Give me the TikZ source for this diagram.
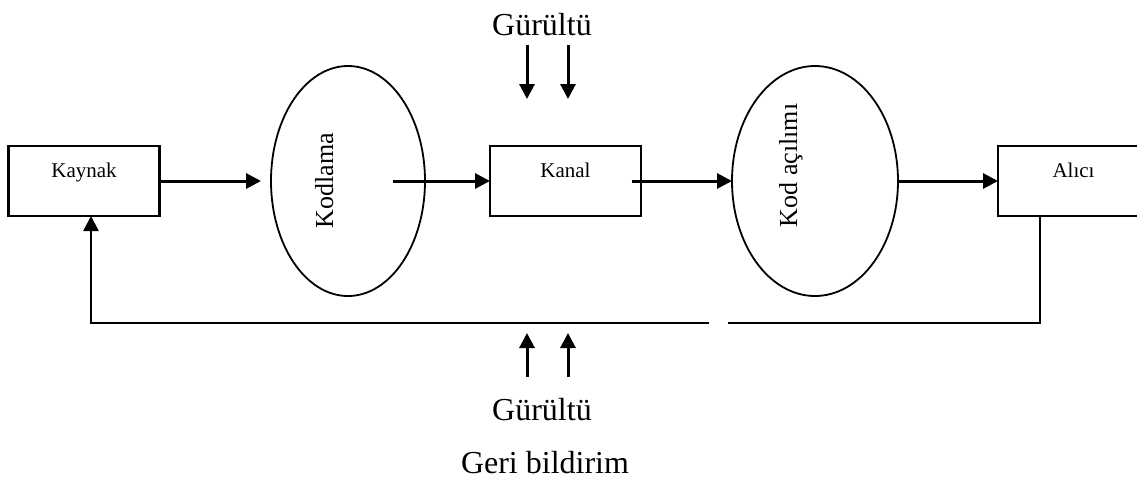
\documentclass[tikz,border=0pt]{standalone}
\usepackage{fontspec}
\setmainfont{Liberation Serif}
\usetikzlibrary{arrows.meta,shapes.geometric,calc}
\tikzset{
  box/.style={draw,line width=1.1pt,rectangle,minimum width=75.5pt,minimum height=35pt,
    text height=8pt,text depth=12pt,outer sep=0pt,font=\fontsize{10.5}{12}\selectfont},
  oval/.style={draw,line width=0.9pt,ellipse,inner sep=0pt,outer sep=0pt,minimum height=115pt},
  ovaltext/.style={font=\fontsize{13}{15}\selectfont,rotate=90,anchor=base},
  noisetext/.style={font=\fontsize{16}{19}\selectfont,anchor=base},
  flow/.style={line width=1.5pt,-{Triangle[length=7.5pt,width=7.5pt]}},
  feedback/.style={line width=1.2pt}
}

\begin{document}
\begin{tikzpicture}[x=0.5pt,y=-0.5pt]
\useasboundingbox (0,0) rectangle (1137,479);
\clip (0,0) rectangle (1137,479);

\node[box] (kaynak) at (84,181) {Kaynak};
\node[oval,minimum width=77pt] (kodlama) at (348,181) {};
\node[box] (kanal) at (565.5,181) {Kanal};
\node[oval,minimum width=83pt] (kodacilim) at (815,181) {};
\node[box] (alici) at (1073.5,181) {Alıcı};

\node[ovaltext] (kodlamaYazi) at (333,180.5) {Kodlama};
\node[ovaltext] (kodacilimYazi) at (797,165.5) {Kod açılımı};

\draw[flow,shorten >=5pt] (kaynak.east) -- (kodlama.west);
\draw[flow,shorten <=22.5pt] (kodlama.center) -- (kanal.west);
\draw[flow,shorten <=33pt] (kanal.center) -- (kodacilim.west);
\draw[flow] (kodacilim.east) -- (alici.west);

% geri bildirim hatti
\coordinate (gapR) at (728,323);
\coordinate (gapL) at (709,323);
\draw[feedback] ([xshift=21pt]alici.south west) |- (gapR);
\draw[flow,feedback] (gapL) -| ([xshift=3.5pt]kaynak.south);

\node[noisetext] (gurultuUst) at (542,35) {Gürültü};
\node[noisetext] (gurultuAlt) at (542,420) {Gürültü};
\node[noisetext] (geriBildirim) at (545,473) {Geri bildirim};

\foreach \x [count=\i] in {527,568}{
  \coordinate (ustBas\i) at (\x,45);
  \coordinate (ustUc\i) at (\x,99);
  \draw[flow] (ustBas\i) -- (ustUc\i);
  \coordinate (altBas\i) at (\x,377);
  \coordinate (altUc\i) at (\x,333);
  \draw[flow] (altBas\i) -- (altUc\i);
}

\end{tikzpicture}
\end{document}
